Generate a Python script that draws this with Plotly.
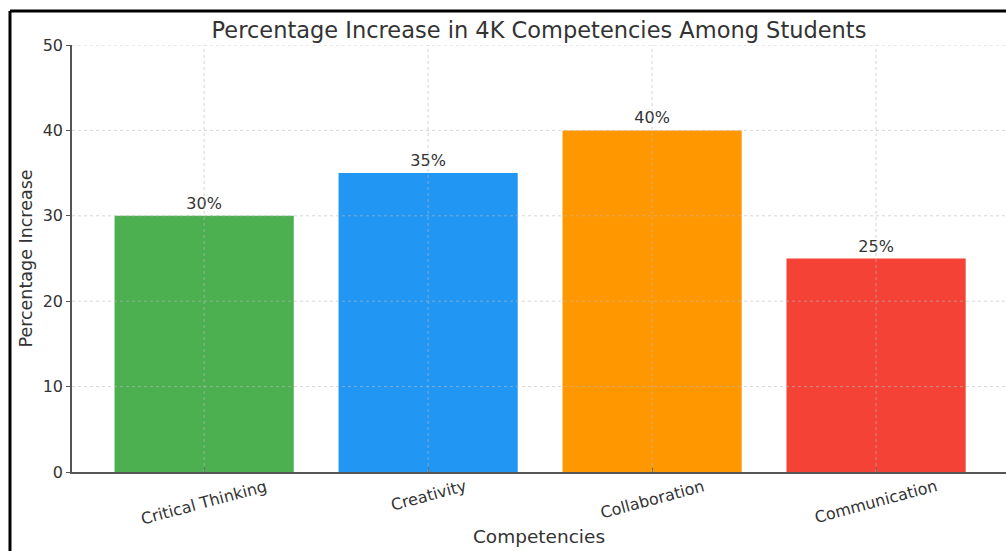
import plotly.graph_objects as go

categories = ["Critical Thinking", "Creativity", "Collaboration", "Communication"]
values = [30, 35, 40, 25]
labels = ["30%", "35%", "40%", "25%"]
colors = ["#4CAF50", "#2196F3", "#FF9800", "#F44336"]

FONT = "DejaVu Sans"
TXT = "#333333"
GRID = "rgba(185,185,185,0.6)"

xpos = list(range(len(categories)))
XR = [-0.59, 3.58]
YR = [0, 50]
YT = [0, 10, 20, 30, 40, 50]

fig = go.Figure()
fig.add_trace(go.Bar(
    x=xpos, y=values,
    marker=dict(color=colors, line=dict(width=0)),
    width=0.8,
    text=labels, textposition="outside",
    textfont=dict(family=FONT, size=16, color=TXT),
    cliponaxis=False,
))

fig.update_layout(
    width=1006, height=551,
    margin=dict(l=72, r=0, t=45, b=79),
    paper_bgcolor="white", plot_bgcolor="white",
    showlegend=False,
    title=dict(text="Percentage Increase in 4K Competencies Among Students",
               x=0.5, xref="paper", xanchor="center", y=0.946, yanchor="middle",
               font=dict(family=FONT, size=22.5, color=TXT)),
    font=dict(family=FONT, color=TXT),
)
fig.update_xaxes(
    range=XR,
    tickmode="array", tickvals=xpos, ticktext=categories,
    showticklabels=False,
    showline=True, linecolor="#555555", linewidth=1.5,
    ticks="inside", ticklen=4, tickcolor="#555555",
    showgrid=False, zeroline=False,
    title=dict(text="Competencies", font=dict(family=FONT, size=18.5, color=TXT), standoff=57),
)
fig.update_yaxes(
    range=YR, tickvals=YT,
    tickfont=dict(family=FONT, size=16, color=TXT),
    showline=True, linecolor="#555555", linewidth=1.5,
    ticks="outside", ticklen=4, tickcolor="#555555",
    showgrid=False, zeroline=False,
    title=dict(text="Percentage Increase", font=dict(family=FONT, size=17.5, color=TXT), standoff=6),
)

# grid lines drawn above the bars (as in the reference), at the axis tick positions
for yv in YT[1:]:
    fig.add_shape(type="line", xref="paper", yref="y", x0=0, x1=1, y0=yv, y1=yv,
                  layer="above", line=dict(color=GRID, width=1, dash="dot"))
for xv in xpos:
    fig.add_shape(type="line", xref="x", yref="paper", x0=xv, x1=xv, y0=0, y1=1,
                  layer="above", line=dict(color=GRID, width=1, dash="dot"))

# rotated category labels centred under each tick
for xi, name in zip(xpos, categories):
    fig.add_annotation(x=xi, xref="x", y=0, yref="paper", yanchor="top", xanchor="center",
                       yshift=-2, text=name, textangle=-15, showarrow=False,
                       font=dict(family=FONT, size=16, color=TXT))

# image frame (left and top black border)
fig.add_shape(type="line", xref="paper", yref="paper",
              x0=-0.0664, x1=-0.0664, y0=-0.2, y1=1.0796,
              line=dict(color="black", width=3))
fig.add_shape(type="line", xref="paper", yref="paper",
              x0=-0.0664, x1=1.0, y0=1.0796, y1=1.0796,
              line=dict(color="black", width=3))

fig.write_html(
    "out.html",
    config={"displayModeBar": False},
    post_script="document.documentElement.style.overflow='hidden';document.body.style.overflow='hidden';",
)
